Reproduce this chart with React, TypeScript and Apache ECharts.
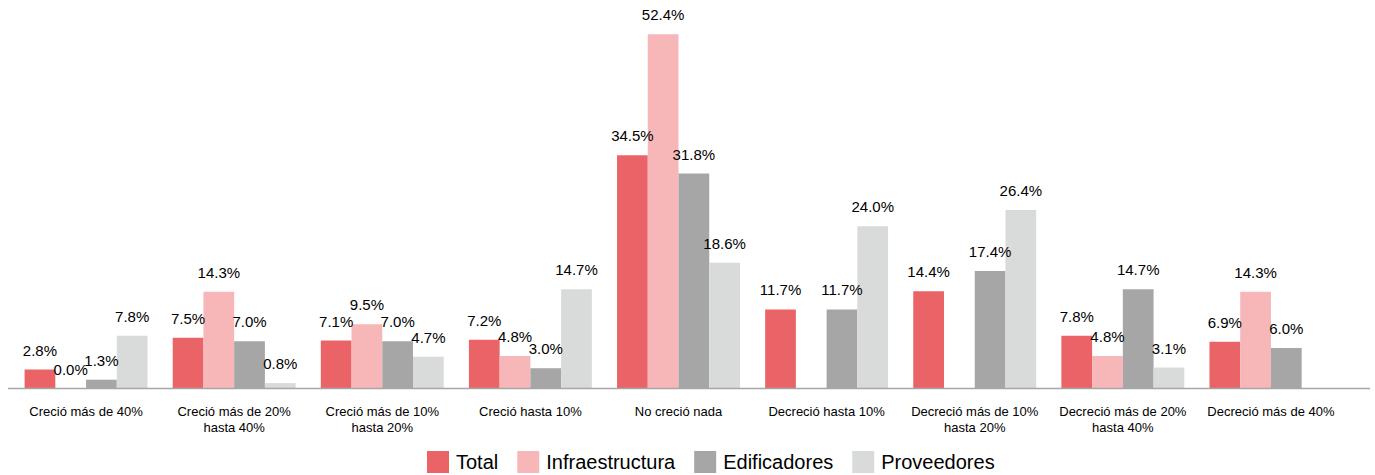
import React, { useEffect, useRef } from "react";
import * as echarts from "echarts";

const categories = [
  "Creció más de 40%",
  "Creció más de 20%\nhasta 40%",
  "Creció más de 10%\nhasta 20%",
  "Creció hasta 10%",
  "No creció nada",
  "Decreció hasta 10%",
  "Decreció más de 10%\nhasta 20%",
  "Decreció más de 20%\nhasta 40%",
  "Decreció más de 40%",
];

const total = [2.8, 7.5, 7.1, 7.2, 34.5, 11.7, 14.4, 7.8, 6.9];
const infraestructura = [0.0, 14.3, 9.5, 4.8, 52.4, null, null, 4.8, 14.3];
const edificadores = [1.3, 7.0, 7.0, 3.0, 31.8, 11.7, 17.4, 14.7, 6.0];
const proveedores = [7.8, 0.8, 4.7, 14.7, 18.6, 24.0, 26.4, 3.1, null];

const seriesNames = ["Total", "Infraestructura", "Edificadores", "Proveedores"];
const seriesColors = ["#EA6467", "#F7B7B8", "#A6A6A6", "#D9DADA"];

const FONT = "'Liberation Sans', Arial, sans-serif";

export default function App() {
  const ref = useRef<HTMLDivElement>(null);
  useEffect(() => {
    if (!ref.current) return;
    const chart = echarts.init(ref.current, null, { renderer: "svg" });
    const dataSets = [total, infraestructura, edificadores, proveedores];
    chart.setOption({
      animation: false,
      textStyle: { fontFamily: FONT },
      grid: { left: 12, right: 30, top: 10, bottom: 86.5, containLabel: false },
      legend: {
        left: 427,
        top: 451,
        padding: 0,
        itemWidth: 22,
        itemHeight: 22,
        itemGap: 19,
        icon: "rect",
        textStyle: {
          fontSize: 20,
          lineHeight: 22,
          color: "#000",
          fontFamily: FONT,
          padding: [0, 0, 0, 2],
        },
        data: seriesNames,
      },
      xAxis: {
        type: "category",
        data: categories,
        axisLine: { show: false },
        axisTick: { show: false },
        axisLabel: {
          interval: 0,
          fontSize: 13,
          lineHeight: 16,
          margin: 15,
          color: "#000",
          fontFamily: FONT,
        },
      },
      yAxis: {
        type: "value",
        min: 0,
        max: 56,
        show: false,
        splitLine: { show: false },
      },
      graphic: [
        {
          type: "line",
          shape: { x1: 8, y1: 388.5, x2: 1370, y2: 388.5 },
          style: { stroke: "#A6A6A6", lineWidth: 1.5 },
          z: 10,
        },
      ],
      series: dataSets.map((d, i) => ({
        name: seriesNames[i],
        type: "bar",
        data: d,
        barGap: "0%",
        barCategoryGap: "17%",
        itemStyle: { color: seriesColors[i] },
        label: {
          show: true,
          position: "top",
          distance: 12,
          fontSize: 15,
          color: "#000",
          fontFamily: FONT,
          formatter: (p: any) => (p.value == null ? "" : Number(p.value).toFixed(1) + "%"),
        },
      })),
    });
    return () => chart.dispose();
  }, []);
  return (
    <div
      ref={ref}
      style={{ position: "absolute", left: 0, top: 0, width: 1375, height: 475, background: "#fff" }}
    />
  );
}
